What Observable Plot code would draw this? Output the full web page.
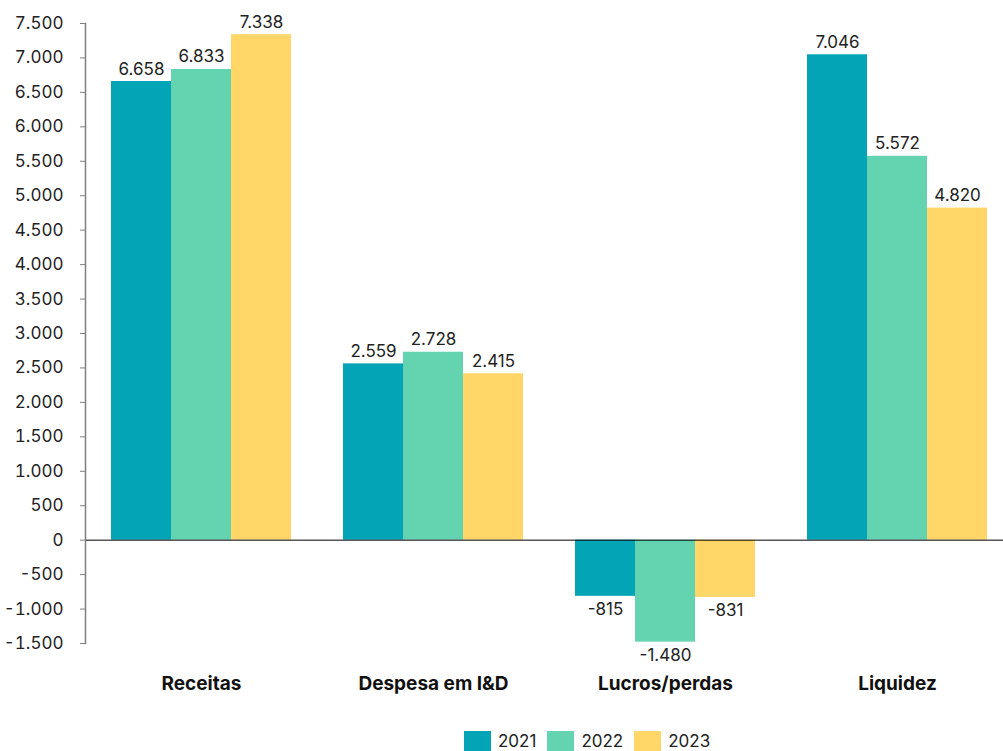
<!DOCTYPE html>
<html>
<head>
<meta charset="utf-8">
<script src="https://cdn.jsdelivr.net/npm/d3@7"></script>
<script src="https://cdn.jsdelivr.net/npm/@observablehq/plot@0.6"></script>
<style>
  html, body { margin: 0; padding: 0; background: #fff; }
  body { width: 1003px; height: 751px; overflow: hidden; position: relative; font-family: Inter, "Liberation Sans", sans-serif; }
  #legend { position: absolute; left: 464px; top: 731px; display: flex; align-items: center; font-size: 17px; color: #222; }
  .item { display: flex; align-items: center; margin-right: 11px; }
  .sw { width: 27px; height: 20px; margin-right: 7px; }
</style>
</head>
<body>
<div id="chart"></div>
<div id="legend"></div>
<script>
const categories = ["Receitas", "Despesa em I&D", "Lucros/perdas", "Liquidez"];
const years = ["2021", "2022", "2023"];
const values2021 = [6658, 2559, -815, 7046];
const values2022 = [6833, 2728, -1480, 5572];
const values2023 = [7338, 2415, -831, 4820];
const colors = ["#02A4B5", "#63D3B0", "#FFD667"];
const yTicks = [-1500, -1000, -500, 0, 500, 1000, 1500, 2000, 2500, 3000, 3500, 4000, 4500, 5000, 5500, 6000, 6500, 7000, 7500];

const series = [values2021, values2022, values2023];
const data = categories.flatMap((c, i) => years.map((y, j) => ({category: c, year: y, value: series[j][i]})));

const locale = d3.formatLocale({decimal: ",", thousands: ".", grouping: [3], currency: ["", ""], minus: "-"});
const fmt = locale.format(",");

const font = "Inter, 'Liberation Sans', sans-serif";

const chart = Plot.plot({
  width: 1003,
  height: 720,
  marginLeft: 85,
  marginRight: -10,
  marginTop: 23,
  marginBottom: 77,
  style: {fontFamily: font, fontSize: "17px", color: "#222", background: "#fff"},
  fx: {domain: categories, padding: 0, label: null},
  x: {domain: years, paddingInner: 0, paddingOuter: 25 / 61, axis: null},
  y: {domain: [-1500, 7500], label: null, axis: null},
  color: {domain: years, range: colors},
  marks: [
    Plot.barY(data, {fx: "category", x: "year", y: "value", fill: "year"}),
    Plot.ruleY([0], {stroke: "#000", strokeWidth: 1}),
    Plot.text(data.filter(d => d.value >= 0), {fx: "category", x: "year", y: "value", text: d => fmt(d.value), lineAnchor: "bottom", dy: -7, fill: "#222", fontSize: 17}),
    Plot.text(data.filter(d => d.value < 0), {fx: "category", x: "year", y: "value", text: d => fmt(d.value), lineAnchor: "top", dy: 7, fill: "#222", fontSize: 17}),
    Plot.axisY({ticks: yTicks, tickFormat: fmt, tickSize: 5, tickPadding: 17, stroke: "#7f7f7f", fill: "#222", label: null, fontSize: 17}),
    Plot.frame({anchor: "left", stroke: "#7f7f7f", strokeWidth: 1.5, facetAnchor: "left"}),
    Plot.axisFx({anchor: "bottom", tickSize: 0, tickPadding: 33, label: null, fontWeight: "bold", fontSize: 19, fill: "#111"})
  ]
});
document.getElementById("chart").appendChild(chart);

const legend = document.getElementById("legend");
years.forEach((y, i) => {
  const item = document.createElement("div");
  item.className = "item";
  const sw = document.createElement("div");
  sw.className = "sw";
  sw.style.background = colors[i];
  const t = document.createElement("span");
  t.textContent = y;
  item.appendChild(sw);
  item.appendChild(t);
  legend.appendChild(item);
});
</script>
</body>
</html>
